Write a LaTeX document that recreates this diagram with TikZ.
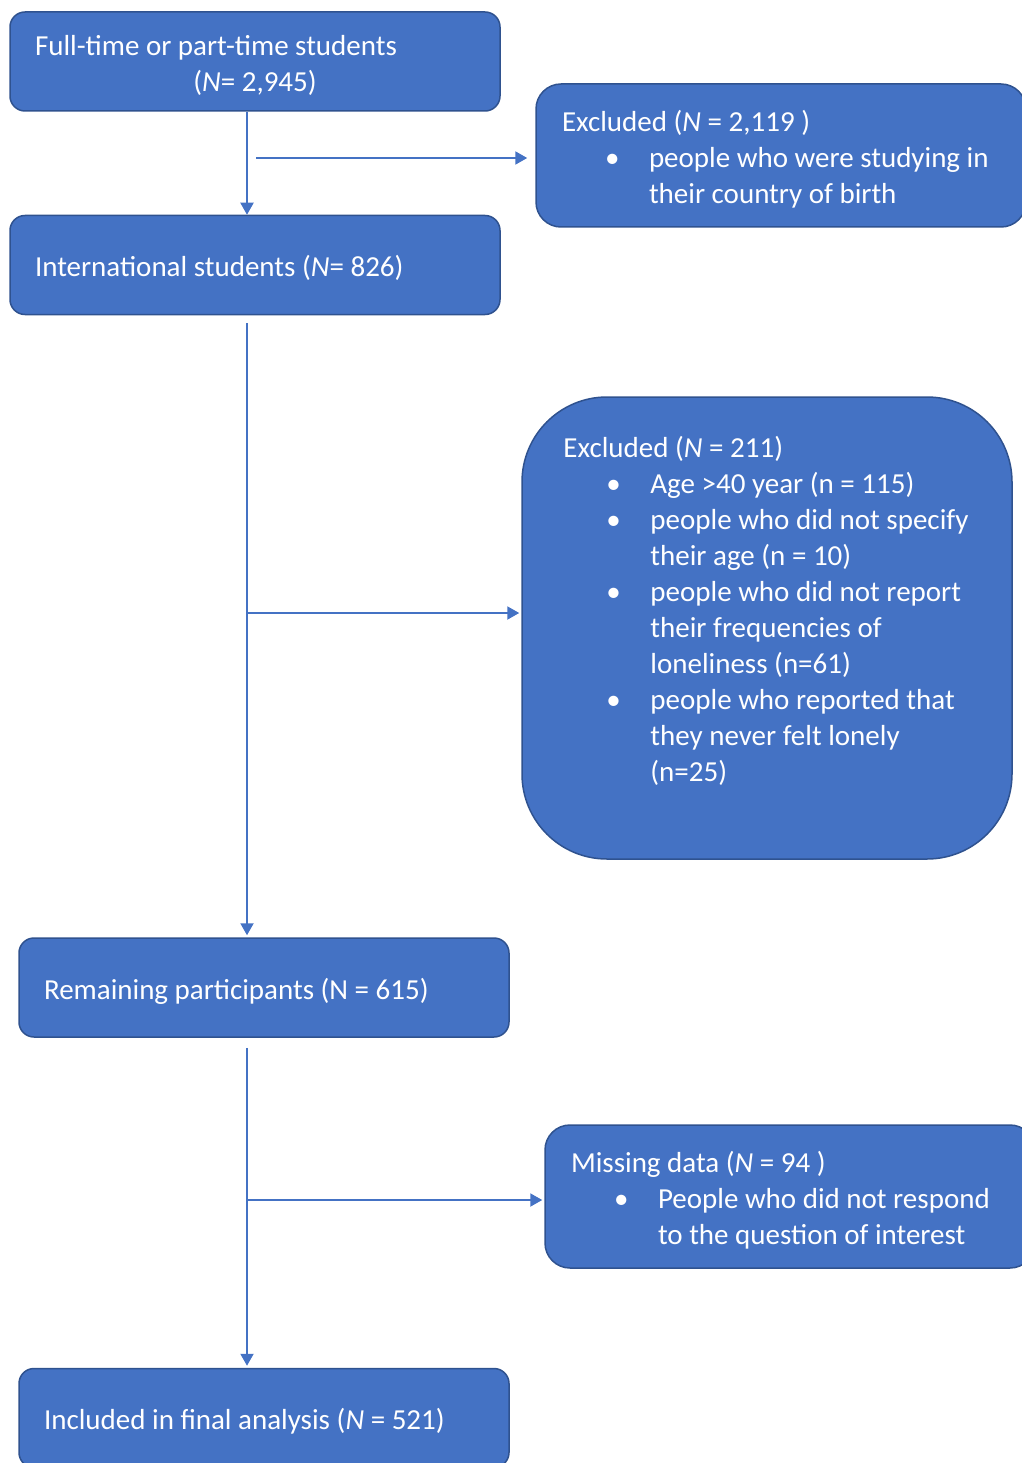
\documentclass[tikz,border=0pt]{standalone}
\usepackage{fontspec}
\setmainfont{Carlito}
\usetikzlibrary{arrows.meta}
\definecolor{boxfill}{HTML}{4472C4}
\definecolor{boxline}{HTML}{2F528F}
\newcommand{\bitem}{\hspace*{43pt}\makebox[44pt][l]{\textbullet}}
\newcommand{\bcont}{\hspace*{87pt}}
\tikzset{
  boxtext/.style={text=white,align=flush left,font=\fontsize{29}{36}\selectfont},
  box/.style={boxtext,draw=boxline,line width=1.5pt,fill=boxfill,rounded corners=15pt,
    text width=440pt,inner xsep=25pt,inner ysep=0pt,minimum height=99pt,
    execute at begin node={\rule{0pt}{28pt}}},
  exbox/.style={box,rounded corners=25pt,text width=438pt,inner xsep=26pt,minimum height=143pt},
  flow/.style={draw=boxfill,line width=2pt,-{Triangle[length=12pt,width=13pt]}}
}

\begin{document}
\begin{tikzpicture}[x=1pt,y=-1pt]
\useasboundingbox (0,0) rectangle (1021,1463);
\node[box] (full) at (255,61.5) {Full-time or part-time students\\
  \makebox[440pt][c]{(\textit{N}= 2,945)}};
\node[box] (intl) at (255,265) {International students (\textit{N}= 826)};
\node[box] (remain) at (264,987.5) {Remaining participants (N = 615)};
\node[box] (final) at (264,1418) {Included in final analysis (\textit{N} = 521)};
\node[exbox] (excl1) at (781,155.5) {Excluded (\textit{N} = 2,119 )\\
  \bitem people who were studying in\\
  \bcont their country of birth};
\node[exbox,rounded corners=85pt,minimum height=462pt] (excl2) at (767,628) {};
\node[boxtext,inner sep=0pt,anchor=north west] (excl2txt) at ([xshift=42pt,yshift=-40pt]excl2.north west) {Excluded (\textit{N} = 211)\\
  \bitem Age >40 year (n = 115)\\
  \bitem people who did not specify\\
  \bcont their age (n = 10)\\
  \bitem people who did not report\\
  \bcont their frequencies of\\
  \bcont loneliness (n=61)\\
  \bitem people who reported that\\
  \bcont they never felt lonely\\
  \bcont (n=25)};
\node[exbox] (missing) at (790,1196.5) {Missing data (\textit{N} = 94 )\\
  \bitem People who did not respond\\
  \bcont to the question of interest};
\coordinate (trunk) at (247,0);
\coordinate (split1) at (256,158);
\coordinate (split2) at (247,613);
\coordinate (split3) at (247,1200);
\draw[flow] (full.south -| trunk) -- (intl.north -| trunk);
\draw[flow,shorten >=8pt] (split1) -- (split1 -| excl1.west);
\draw[flow,shorten <=8pt,shorten >=2pt] (intl.south -| trunk) -- (remain.north -| trunk);
\draw[flow,shorten >=2pt] (split2) -- (split2 -| excl2.west);
\draw[flow,shorten <=10pt,shorten >=2pt] (remain.south -| trunk) -- (final.north -| trunk);
\draw[flow,shorten >=2pt] (split3) -- (split3 -| missing.west);
\end{tikzpicture}
\end{document}
